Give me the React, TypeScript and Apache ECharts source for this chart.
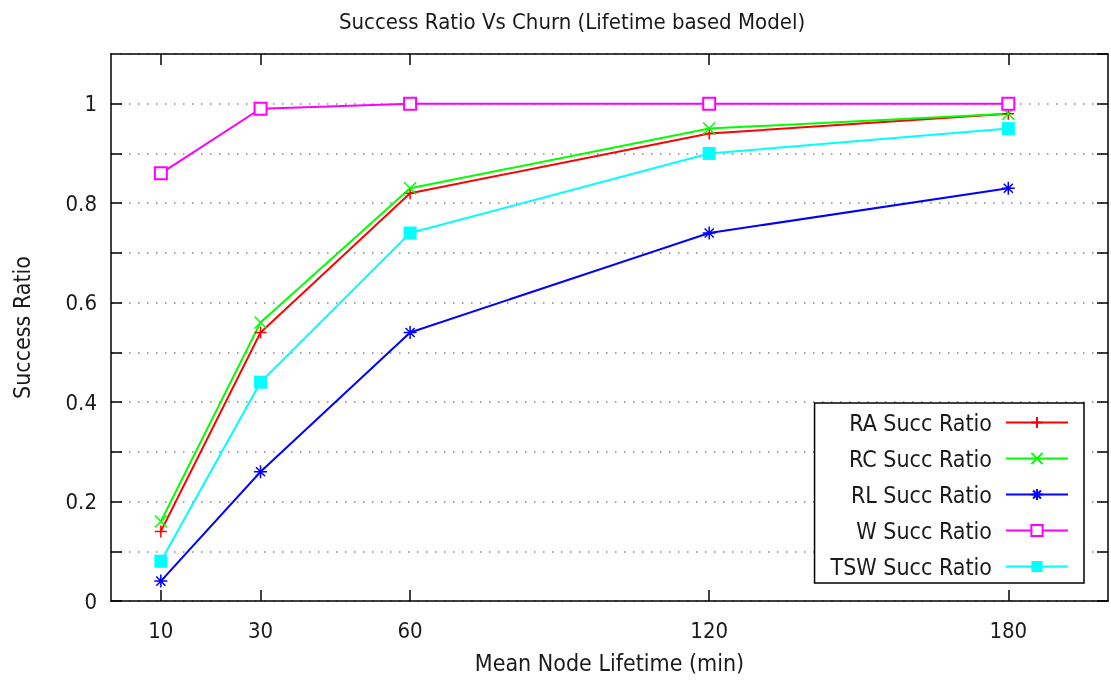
import React, { useEffect, useRef } from "react";
import * as echarts from "echarts";

const xValues = [10, 30, 60, 120, 180];
const raValues = [0.14, 0.54, 0.82, 0.94, 0.98];
const rcValues = [0.16, 0.56, 0.83, 0.95, 0.98];
const rlValues = [0.04, 0.26, 0.54, 0.74, 0.83];
const wValues = [0.86, 0.99, 1.0, 1.0, 1.0];
const tswValues = [0.08, 0.44, 0.74, 0.9, 0.95];
const seriesNames = ["RA Succ Ratio", "RC Succ Ratio", "RL Succ Ratio", "W Succ Ratio", "TSW Succ Ratio"];
const xTicks = [10, 30, 60, 120, 180];

const FONT = "'DejaVu Sans Condensed', 'DejaVu Sans', sans-serif";
const TXT = "#1a1a1a";

const PLUS = "path://M5,0L5,10M0,5L10,5";
const CROSS = "path://M0,0L10,10M10,0L0,10";
const STAR = "path://M5,0L5,10M0,5L10,5M1.5,1.5L8.5,8.5M8.5,1.5L1.5,8.5";

export default function App() {
  const ref = useRef<HTMLDivElement>(null);
  useEffect(() => {
    if (!ref.current) return;
    const chart = echarts.init(ref.current, null, { renderer: "svg" });
    const mk = (name: string, vals: number[], color: string, symbol: string, size: number, stroke: boolean) => ({
      name,
      type: "line",
      data: xValues.map((x, i) => [x, vals[i]]),
      symbol,
      symbolSize: size,
      showAllSymbol: true,
      lineStyle: { color, width: 2 },
      itemStyle: stroke
        ? { color, borderColor: color, borderWidth: 1.5 }
        : { color, borderColor: color, borderWidth: symbol === "emptyRect" ? 1.5 : 0 },
      emphasis: { disabled: true },
      z: 3,
    });
    const axisLineStyle = { color: "#000", width: 1.5 };
    chart.setOption({
      animation: false,
      title: {
        text: "Success Ratio Vs Churn (Lifetime based Model)",
        left: 567,
        top: 5,
        textAlign: "center",
        textStyle: { fontFamily: FONT, fontSize: 22, fontWeight: "normal", color: TXT },
      },
      grid: { left: 111, top: 54, right: 3, bottom: 87, show: false },
      legend: {
        orient: "vertical",
        right: 27,
        top: 403,
        align: "right",
        itemWidth: 62,
        itemHeight: 14,
        itemGap: 13,
        padding: [8, 15, 5, 16],
        backgroundColor: "#fff",
        borderColor: "#000",
        borderWidth: 1.5,
        borderRadius: 0,
        data: seriesNames,
        textStyle: { fontFamily: FONT, fontSize: 23, color: TXT, lineHeight: 21, padding: [0, 9, 0, 0] },
      },
      xAxis: [
        {
          type: "value",
          min: 0,
          max: 200,
          position: "bottom",
          name: "Mean Node Lifetime (min)",
          nameLocation: "middle",
          nameGap: 50,
          nameTextStyle: { fontFamily: FONT, fontSize: 23, color: TXT },
          axisLine: { show: true, onZero: false, lineStyle: axisLineStyle },
          axisTick: { show: true, inside: true, length: 11, customValues: xTicks, lineStyle: axisLineStyle },
          axisLabel: { customValues: xTicks, margin: 18, fontFamily: FONT, fontSize: 22, color: TXT },
          splitLine: { show: false },
        },
        {
          type: "value",
          min: 0,
          max: 200,
          position: "top",
          axisLine: { show: true, onZero: false, lineStyle: axisLineStyle },
          axisTick: { show: true, inside: true, length: 11, customValues: xTicks, lineStyle: axisLineStyle },
          axisLabel: { show: false },
          splitLine: { show: false },
        },
      ],
      yAxis: [
        {
          type: "value",
          min: 0,
          max: 1.1,
          interval: 0.1,
          position: "left",
          name: "Success Ratio",
          nameLocation: "middle",
          nameGap: 78,
          nameTextStyle: { fontFamily: FONT, fontSize: 23, color: TXT },
          axisLine: { show: true, onZero: false, lineStyle: axisLineStyle },
          axisTick: { show: true, inside: true, length: 11, lineStyle: axisLineStyle },
          axisLabel: {
            margin: 14,
            fontFamily: FONT,
            fontSize: 22,
            color: TXT,
            showMaxLabel: false,
            formatter: (v: number) => {
              const t = Math.round(v * 10);
              if (t % 2 !== 0 || t > 10) return "";
              return String(t / 10);
            },
          },
          splitLine: { show: true, lineStyle: { color: "#888", width: 1.5, type: [1.5, 7.5] } },
        },
        {
          type: "value",
          min: 0,
          max: 1.1,
          interval: 0.1,
          position: "right",
          axisLine: { show: true, onZero: false, lineStyle: axisLineStyle },
          axisTick: { show: true, inside: true, length: 11, lineStyle: axisLineStyle },
          axisLabel: { show: false },
          splitLine: { show: false },
        },
      ],
      series: [
        mk(seriesNames[0], raValues, "#ff0000", PLUS, 12, true),
        mk(seriesNames[1], rcValues, "#00ff00", CROSS, 12, true),
        mk(seriesNames[2], rlValues, "#0000ff", STAR, 13, true),
        mk(seriesNames[3], wValues, "#ff00ff", "emptyRect", 12, false),
        mk(seriesNames[4], tswValues, "#00ffff", "rect", 13, false),
      ],
    });
    return () => chart.dispose();
  }, []);
  return <div ref={ref} style={{ position: "fixed", left: 0, top: 0, width: 1111, height: 688 }} />;
}
